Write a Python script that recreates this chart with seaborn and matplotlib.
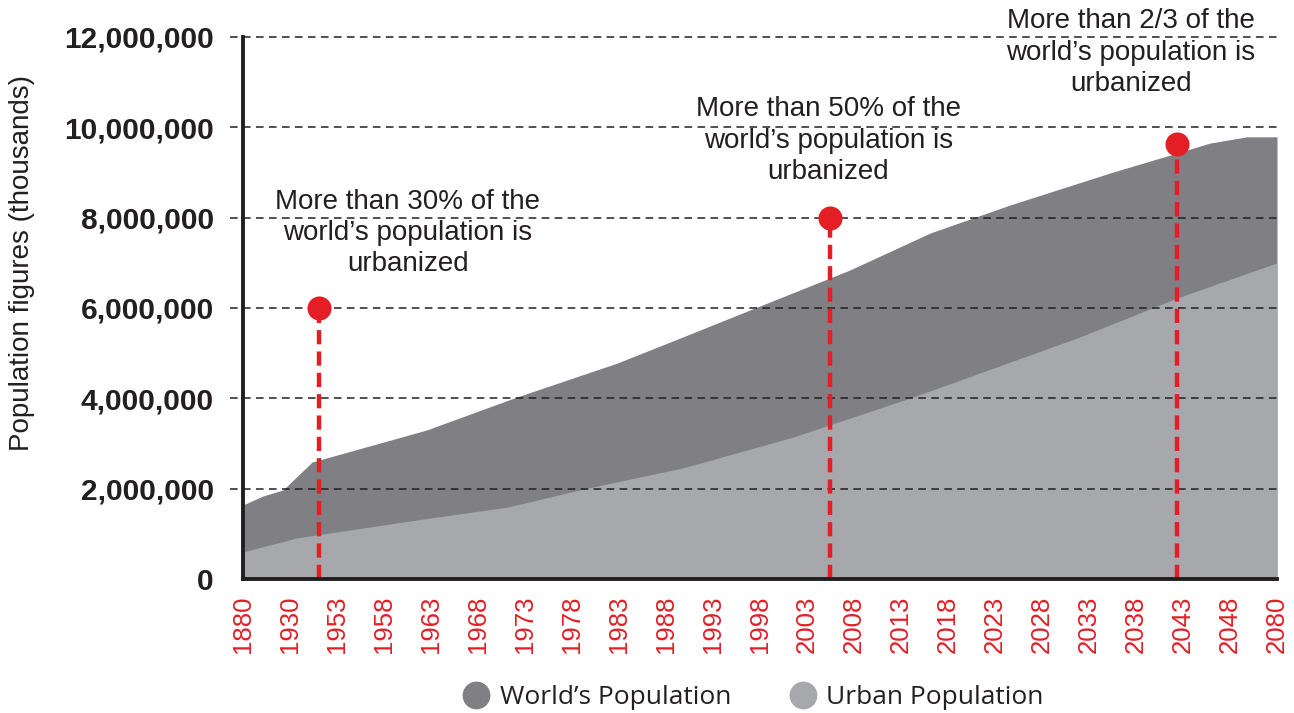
import matplotlib
matplotlib.use("Agg")
import matplotlib.pyplot as plt
from matplotlib.lines import Line2D
import seaborn as sns
import pandas as pd

# ---- data ----
year_labels = ["1880", "1930", "1953", "1958", "1963", "1968", "1973", "1978", "1983",
               "1988", "1993", "1998", "2003", "2008", "2013", "2018", "2023", "2028",
               "2033", "2038", "2043", "2048", "2080"]
# positions along the category axis (tick index units) and population (thousands)
world_pos = [0, 0.43, 0.85, 1.47, 3.91, 5.83, 7.96, 9.36, 10.94, 12.91, 14.62, 16.32,
             18.51, 19.87, 20.57, 21.36, 22]
world_pop = [1640000, 1840000, 1970000, 2590000, 3300000, 4030000, 4780000, 5360000,
             6020000, 6840000, 7660000, 8280000, 9010000, 9430000, 9650000, 9790000, 9790000]
urban_pos = [0, 1.15, 3.98, 5.62, 7.32, 9.36, 11.70, 12.91, 14.26, 17.81, 19.87, 22]
urban_pop = [600000, 910000, 1350000, 1590000, 2010000, 2460000, 3140000, 3560000,
             4030000, 5360000, 6220000, 7000000]
marker_pos = [1.62, 12.49, 19.87]
marker_val = [6000000, 8000000, 9630000]
marker_text = ["More than 30% of the\nworld\u2019s population is\nurbanized",
               "More than 50% of the\nworld\u2019s population is\nurbanized",
               "More than 2/3 of the\nworld\u2019s population is\nurbanized"]
text_pos = [3.51, 12.45, 18.89]
text_val = [7660000, 9700000, 11650000]
yticks = [0, 2000000, 4000000, 6000000, 8000000, 10000000, 12000000]

WORLD_C = "#808084"
URBAN_C = "#a7a8ab"
RED = "#e31e25"
INK = "#231f20"

sns.set_theme(style="white")
plt.rcParams["font.family"] = ["Liberation Sans", "DejaVu Sans"]

fig = plt.figure(figsize=(12.94, 7.13), dpi=100)
ax = fig.add_axes([243/1294, 1-579/713, (1277-243)/1294, (579-37)/713])

ax.fill_between(world_pos, world_pop, 0, color=WORLD_C, linewidth=0, zorder=1)
ax.fill_between(urban_pos, urban_pop, 0, color=URBAN_C, linewidth=0, zorder=2)

# dashed horizontal grid lines (extend slightly left of the axis)
for v in yticks[1:]:
    ax.hlines(v, -0.28, 22, colors=INK, linestyles=(0, (5, 3.5)), linewidth=1.1,
              clip_on=False, zorder=3)

# red vertical dashed markers
for p, v in zip(marker_pos, marker_val):
    ax.vlines(p, 0, v, colors=RED, linestyles=(0, (3.2, 1.6)), linewidth=3.2, zorder=4)
mk = pd.DataFrame({"pos": marker_pos, "val": marker_val})
sns.scatterplot(data=mk, x="pos", y="val", ax=ax, color=RED, s=300, linewidth=0,
                zorder=5, clip_on=False, legend=False)

for p, v, t in zip(text_pos, text_val, marker_text):
    ax.text(p, v, t, ha="center", va="center", fontsize=20, color=INK,
            linespacing=1.27, clip_on=False, zorder=6)

ax.set_xlim(0, 22)
ax.set_ylim(0, 12000000)
ax.set_xticks(range(len(year_labels)))
ax.set_xticklabels(year_labels, rotation=90, color=RED, fontsize=18.5)
ax.set_yticks(yticks)
ax.set_yticklabels([f"{v:,}" for v in yticks], fontsize=21.5, fontweight="bold", color=INK)
ax.tick_params(axis="x", length=0, pad=12)
ax.tick_params(axis="y", length=0, pad=21)
ax.set_xlabel("")
ax.set_ylabel("")

for s in ["top", "right"]:
    ax.spines[s].set_visible(False)
for s in ["left", "bottom"]:
    ax.spines[s].set_color(INK)
    ax.spines[s].set_linewidth(2.8)
    ax.spines[s].set_zorder(7)

fig.text(22/1294, 1-263/713, "Population figures (thousands)", rotation=90,
         ha="center", va="center", fontsize=20, color=INK)

handles = [Line2D([], [], marker="o", linestyle="", markersize=19, color=WORLD_C,
                  label="World\u2019s Population"),
           Line2D([], [], marker="o", linestyle="", markersize=19, color=URBAN_C,
                  label="Urban Population")]
leg = fig.legend(handles=handles, loc="center", bbox_to_anchor=(752/1294, 1-698/713),
                 ncol=2, frameon=False, fontsize=19, handletextpad=0.3,
                 columnspacing=2.1, handlelength=1.2)
for t in leg.get_texts():
    t.set_color(INK)
    t.set_family(["Open Sans", "DejaVu Sans"])

fig.savefig("out.png", dpi=100)
